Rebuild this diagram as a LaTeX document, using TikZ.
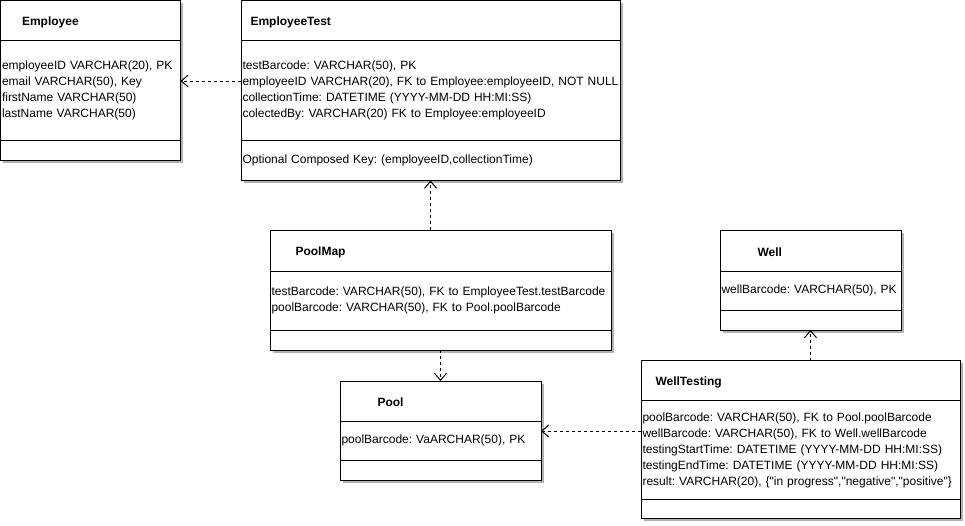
\documentclass[tikz,border=0pt]{standalone}
\usepackage{fontspec}
\setmainfont{Liberation Sans}[Ligatures=TeXOff]
\frenchspacing
\usetikzlibrary{arrows.meta, positioning, shadows}

\begin{document}
\begin{tikzpicture}[x=1pt, y=-1pt, line width=1pt,
        every node/.style={font=\fontsize{12}{16}\selectfont},
        tbl/.style={draw, rectangle, fill=white, outer sep=0pt, inner xsep=1.5pt, inner ysep=0pt, align=left,
            drop shadow={shadow xshift=2.5pt, shadow yshift=-2.5pt, fill=black!30, opacity=1}},
        title/.style={inner sep=0pt, yshift=-1.5pt, font=\fontsize{12}{16}\selectfont\bfseries},
        dep/.style={dash pattern=on 3pt off 3pt, -{Straight Barb[length=7pt, width=12pt]}}]
            \useasboundingbox (0,0) rectangle (965,525);

            \node[tbl, minimum width=180pt, minimum height=40pt, anchor=north west] (emp-h) at (0.5,0.5) {};
            \node[title, right=21pt of emp-h.west] (emp-t) {Employee};
            \node[tbl, text width=177pt, minimum height=100pt, below=0pt of emp-h] (emp-b) {employeeID VARCHAR(20), PK\\email VARCHAR(50), Key\\firstName VARCHAR(50)\\lastName VARCHAR(50)};
            \node[tbl, minimum width=180pt, minimum height=20pt, below=0pt of emp-b] (emp-f) {};

            \node[tbl, minimum width=379pt, minimum height=40pt, anchor=north west] (et-h) at (241,0.5) {};
            \node[title, right=9pt of et-h.west] (et-t) {EmployeeTest};
            \node[tbl, text width=376pt, minimum height=100pt, below=0pt of et-h] (et-b) {testBarcode: VARCHAR(50), PK\\\mbox{employeeID VARCHAR(20), FK to Employee:employeeID, NOT NULL}\\collectionTime: DATETIME (YYYY-MM-DD HH:MI:SS)\\colectedBy: VARCHAR(20) FK to Employee:employeeID};
            \node[tbl, text width=376pt, minimum height=40pt, below=0pt of et-b] (et-f) {Optional Composed Key: (employeeID,collectionTime)};

            \node[tbl, minimum width=341pt, minimum height=41pt, anchor=north west] (pm-h) at (270,230) {};
            \node[title, right=25pt of pm-h.west] (pm-t) {PoolMap};
            \node[tbl, text width=338pt, minimum height=59pt, below=0pt of pm-h] (pm-b) {\mbox{testBarcode: VARCHAR(50), FK to EmployeeTest.testBarcode}\\poolBarcode: VARCHAR(50), FK to Pool.poolBarcode};
            \node[tbl, minimum width=341pt, minimum height=20pt, below=0pt of pm-b] (pm-f) {};

            \node[tbl, minimum width=201pt, minimum height=40pt, anchor=north west] (pool-h) at (340,381) {};
            \node[title, right=37pt of pool-h.west] (pool-t) {Pool};
            \node[tbl, text width=198pt, minimum height=39pt, below=0pt of pool-h] (pool-b) {poolBarcode: VaARCHAR(50), PK};
            \node[tbl, minimum width=201pt, minimum height=20pt, below=0pt of pool-b] (pool-f) {};

            \node[tbl, minimum width=181pt, minimum height=41pt, anchor=north west] (well-h) at (720,230) {};
            \node[title, right=37pt of well-h.west] (well-t) {Well};
            \node[tbl, text width=178pt, minimum height=39pt, below=0pt of well-h] (well-b) {wellBarcode: VARCHAR(50), PK};
            \node[tbl, minimum width=181pt, minimum height=20pt, below=0pt of well-b] (well-f) {};

            \node[tbl, minimum width=319pt, minimum height=40pt, anchor=north west] (wt-h) at (641,360.5) {};
            \node[title, right=14pt of wt-h.west] (wt-t) {WellTesting};
            \node[tbl, text width=316pt, minimum height=99pt, below=0pt of wt-h] (wt-b) {poolBarcode: VARCHAR(50), FK to Pool.poolBarcode\\wellBarcode: VARCHAR(50), FK to Well.wellBarcode\\testingStartTime: DATETIME (YYYY-MM-DD HH:MI:SS)\\testingEndTime: DATETIME (YYYY-MM-DD HH:MI:SS)\\\mbox{result: VARCHAR(20), \{"in progress","negative","positive"\}}};
            \node[tbl, minimum width=319pt, minimum height=19pt, below=0pt of wt-b] (wt-f) {};

            \coordinate[above=9.5pt of emp-b.east] (emp-in);
            \coordinate[above=9.5pt of pool-b.east] (pool-in);
            \draw[dep] (et-b.west |- emp-in) -- (emp-in);
            \draw[dep] (pm-h.north -| et-f.south) -- (et-f.south);
            \draw[dep] (pm-f.south) -- (pool-h.north);
            \draw[dep] (wt-b.west |- pool-in) -- (pool-in);
            \draw[dep] (wt-h.north -| well-f.south) -- (well-f.south);
        \end{tikzpicture}
\end{document}
